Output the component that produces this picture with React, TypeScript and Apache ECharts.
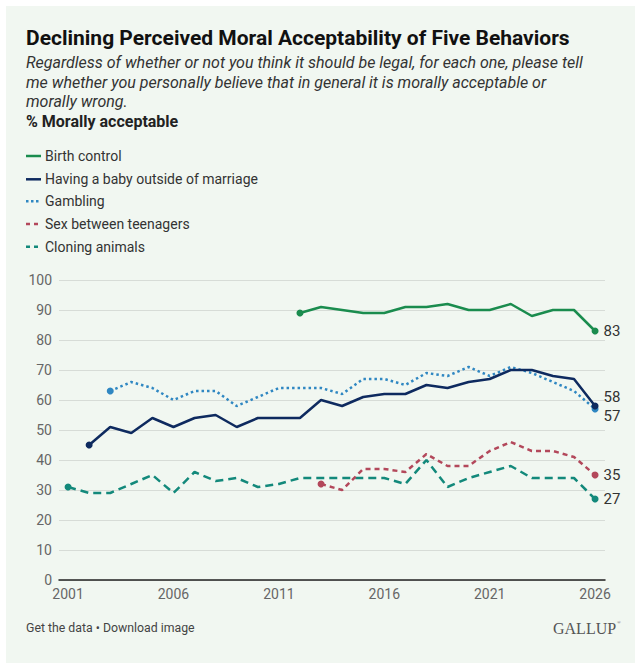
import React, { useEffect, useRef } from "react";
import * as echarts from "echarts";

// ---- Data ----
const seriesNames = [
  "Birth control",
  "Having a baby outside of marriage",
  "Gambling",
  "Sex between teenagers",
  "Cloning animals",
];
const birthControlStart = 2012;
const birthControl = [89, 91, 90, 89, 89, 91, 91, 92, 90, 90, 92, 88, 90, 90, 83];
const babyStart = 2002;
const baby = [45, 51, 49, 54, 51, 54, 55, 51, 54, 54, 54, 60, 58, 61, 62, 62, 65, 64, 66, 67, 70, 70, 68, 67, 58];
const gamblingStart = 2003;
const gambling = [63, 66, 64, 60, 63, 63, 58, 61, 64, 64, 64, 62, 67, 67, 65, 69, 68, 71, 68, 71, 69, 66, 63, 57];
const teenStart = 2013;
const teen = [32, 30, 37, 37, 36, 42, 38, 38, 43, 46, 43, 43, 41, 35];
const cloningStart = 2001;
const cloning = [31, 29, 29, 32, 35, 29, 36, 33, 34, 31, 32, 34, 34, 34, 34, 34, 32, 40, 31, 34, 36, 38, 34, 34, 34, 27];
const xTickYears = [2001, 2006, 2011, 2016, 2021, 2026];

const FONT = "Roboto, 'Noto Sans', sans-serif";

function buildData(start: number, values: number[], labelOffset: number[]) {
  const n = values.length;
  return values.map((v, i) => {
    const item: any = { value: [start + i, v] };
    if (i === n - 1) {
      item.label = {
        show: true,
        position: "right",
        distance: 5,
        offset: labelOffset,
        formatter: String(v),
        color: "#333",
        fontSize: 15,
        lineHeight: 15,
        fontFamily: FONT,
      };
    }
    return item;
  });
}

function makeSeries(
  name: string,
  start: number,
  values: number[],
  color: string,
  type: "solid" | number[],
  labelOffset: number[],
  z: number
) {
  const n = values.length;
  return {
    type: "line",
    name,
    data: buildData(start, values, labelOffset),
    symbol: "circle",
    showSymbol: true,
    showAllSymbol: true,
    symbolSize: (_v: any, p: any) => (p.dataIndex === 0 || p.dataIndex === n - 1 ? 7 : 0),
    itemStyle: { color },
    lineStyle: { color, width: 2.5, type, cap: "butt" },
    z,
    silent: true,
  };
}

export default function App() {
  const ref = useRef<HTMLDivElement>(null);
  useEffect(() => {
    if (!ref.current) return;
    const chart = echarts.init(ref.current, undefined, { renderer: "svg" });

    const colors = ["#1a8c4e", "#0e2a5f", "#2f87c2", "#b3485b", "#13897b"];
    const legendY = [156, 179.3, 201.3, 224, 246.7];
    const legendDash: any[] = ["solid", "solid", [2.5, 2.5], [4, 4], [4, 4]];

    const legendGraphics: any[] = [];
    seriesNames.forEach((nm, i) => {
      legendGraphics.push({
        type: "line",
        shape: { x1: 26, y1: legendY[i], x2: 41, y2: legendY[i] },
        style: { stroke: colors[i], lineWidth: 2.5, lineDash: legendDash[i] === "solid" ? null : legendDash[i] },
        silent: true,
      });
      legendGraphics.push({
        type: "text",
        x: 45,
        y: legendY[i],
        style: { text: nm, font: `14px ${FONT}`, fill: "#333", verticalAlign: "middle", align: "left" },
        silent: true,
      });
    });

    const option: any = {
      animation: false,
      backgroundColor: "#ffffff",
      graphic: [
        {
          type: "rect",
          z: -10,
          shape: { x: 6, y: 6, width: 629, height: 657 },
          style: { fill: "#f1f7f1" },
          silent: true,
        },
        {
          type: "text",
          x: 26,
          y: 38,
          style: {
            text: "Declining Perceived Moral Acceptability of Five Behaviors",
            font: `bold 21px ${FONT}`,
            fill: "#111",
            verticalAlign: "middle",
          },
        },
        {
          type: "text",
          x: 26,
          y: 62.5,
          style: {
            text: "Regardless of whether or not you think it should be legal, for each one, please tell",
            font: `italic 16px ${FONT}`,
            fill: "#333",
            verticalAlign: "middle",
          },
        },
        {
          type: "text",
          x: 26,
          y: 82,
          style: {
            text: "me whether you personally believe that in general it is morally acceptable or",
            font: `italic 16px ${FONT}`,
            fill: "#333",
            verticalAlign: "middle",
          },
        },
        {
          type: "text",
          x: 26,
          y: 101.7,
          style: {
            text: "morally wrong.",
            font: `italic 16px ${FONT}`,
            fill: "#333",
            verticalAlign: "middle",
          },
        },
        {
          type: "text",
          x: 26,
          y: 121.7,
          style: {
            text: "% Morally acceptable",
            font: `bold 16px ${FONT}`,
            fill: "#222",
            verticalAlign: "middle",
          },
        },
        ...legendGraphics,
        {
          type: "text",
          x: 26,
          y: 628,
          style: {
            text: "Get the data • Download image",
            font: `12.3px ${FONT}`,
            fill: "#444",
            verticalAlign: "middle",
          },
        },
        {
          type: "text",
          x: 553,
          y: 628,
          style: {
            text: "GALLUP",
            font: "16px 'Liberation Serif', 'DejaVu Serif', serif",
            fill: "#555",
            verticalAlign: "middle",
          },
        },
        {
          type: "text",
          x: 617,
          y: 622,
          style: {
            text: "®",
            font: "5px 'Liberation Serif', serif",
            fill: "#555",
            verticalAlign: "middle",
          },
        },
      ],
      grid: { left: 59, right: 36, top: 280, bottom: 87, containLabel: false, outerBoundsMode: "none" },
      xAxis: {
        type: "value",
        min: 2000.57,
        max: 2026.47,
        axisLine: { show: true, onZero: false, lineStyle: { color: "#222", width: 1.5 } },
        axisTick: { show: false },
        splitLine: { show: false },
        axisLabel: {
          customValues: xTickYears,
          formatter: (v: number) => String(v),
          color: "#666",
          fontSize: 14,
          fontFamily: FONT,
          margin: 7,
        },
      },
      yAxis: {
        type: "value",
        min: 0,
        max: 100,
        interval: 10,
        axisLine: { show: false },
        axisTick: { show: false },
        splitLine: { show: true, lineStyle: { color: "#d7dcd7", width: 1 } },
        axisLabel: { color: "#666", fontSize: 14, fontFamily: FONT, margin: 7 },
      },
      series: [
        makeSeries(seriesNames[4], cloningStart, cloning, colors[4], [8, 5], [0, 0], 2),
        makeSeries(seriesNames[3], teenStart, teen, colors[3], [5, 4], [0, 0], 3),
        makeSeries(seriesNames[2], gamblingStart, gambling, colors[2], [2.5, 3], [0, 6.5], 4),
        makeSeries(seriesNames[1], babyStart, baby, colors[1], "solid", [0, -9.5], 5),
        makeSeries(seriesNames[0], birthControlStart, birthControl, colors[0], "solid", [0, 0], 6),
      ],
    };
    chart.setOption(option);
    return () => chart.dispose();
  }, []);

  return (
    <div
      ref={ref}
      style={{ position: "fixed", left: 0, top: 0, width: 641, height: 667 }}
    />
  );
}
